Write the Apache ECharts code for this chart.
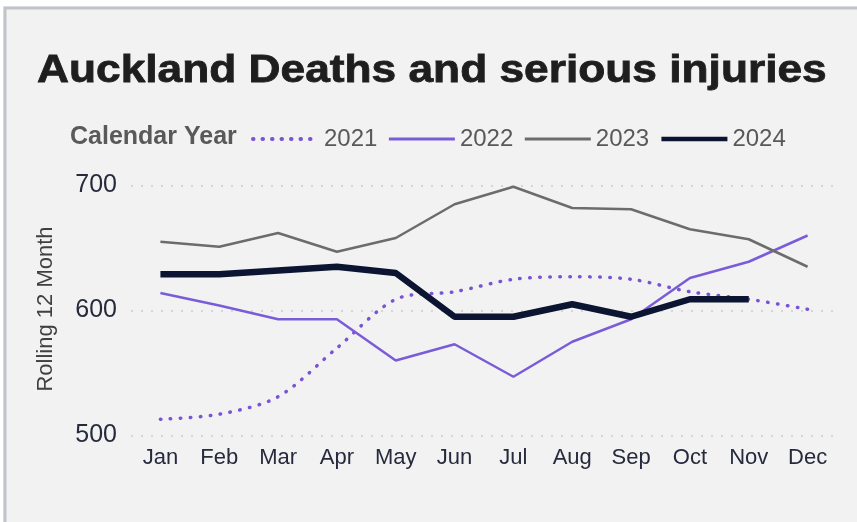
<!DOCTYPE html>
<html>
<head>
<meta charset="utf-8">
<script src="https://cdn.jsdelivr.net/npm/echarts/dist/echarts.min.js"></script>
<style>
  html, body { margin: 0; padding: 0; background: #ffffff; }
  #chart { width: 857px; height: 522px; }
</style>
</head>
<body>
<div id="chart"></div>
<script>
// Months on the category axis
var months = ['Jan', 'Feb', 'Mar', 'Apr', 'May', 'Jun', 'Jul', 'Aug', 'Sep', 'Oct', 'Nov', 'Dec'];

// Rolling 12-month deaths and serious injuries, by calendar year
var y2021 = [513, 517, 531, 570, 609, 615, 625, 627, 625, 615, 609, 601];
var y2022 = [614, 604, 593, 593, 560, 573, 547, 575, 593, 626, 639, 660];
var y2023 = [655, 651, 662, 647, 658, 685, 699, 682, 681, 665, 657, 635];
var y2024 = [629, 629, 632, 635, 630, 595, 595, 605, 595, 609, 609];

// Value axis ticks
var yTicks = [500, 600, 700];

var chart = echarts.init(document.getElementById('chart'), null, { renderer: 'canvas' });

var FONT = '"Liberation Sans", Arial, Helvetica, sans-serif';
var LABEL_COLOR = '#262a3c';
var C2021 = '#7a52d6', C2022 = '#7b5cd8', C2023 = '#6c6c6c', C2024 = '#0b1532';

chart.setOption({
  backgroundColor: '#f2f2f2',
  animation: false,
  graphic: [
    // white margin and panel border
    { type: 'rect', shape: { x: 0, y: 0, width: 857, height: 6 }, style: { fill: '#ffffff' }, silent: true },
    { type: 'rect', shape: { x: 0, y: 0, width: 3, height: 522 }, style: { fill: '#ffffff' }, silent: true },
    { type: 'polyline', shape: { points: [[5, 522], [5, 8], [857, 8]] },
      style: { stroke: '#c0c4ca', lineWidth: 3, fill: null }, silent: true },
    // chart title
    { type: 'text', x: 37, y: 72, scaleX: 1.165,
      style: { text: 'Auckland Deaths and serious injuries', fontFamily: FONT, fontWeight: 'bold',
               fontSize: 38, fill: '#1e1e1e', stroke: '#1e1e1e', lineWidth: 0.8,
               verticalAlign: 'middle', align: 'left' } },
    // legend heading
    { type: 'text', x: 70, y: 137,
      style: { text: 'Calendar Year', fontFamily: FONT, fontWeight: 'bold',
               fontSize: 25, fill: '#595959', verticalAlign: 'middle', align: 'left' } },
    // value axis name
    { type: 'text', x: 46, y: 309, rotation: Math.PI / 2,
      style: { text: 'Rolling 12 Month', fontFamily: FONT, fontSize: 22,
               fill: '#404040', verticalAlign: 'middle', align: 'center' } }
  ],
  legend: {
    left: 246,
    top: 122,
    itemWidth: 66,
    itemHeight: 18,
    itemGap: 10,
    itemStyle: { opacity: 0 },
    textStyle: { fontFamily: FONT, fontSize: 24, color: '#595959' },
    data: [
      { name: '2021', lineStyle: { width: 4, color: C2021, type: [0.5, 9], cap: 'round' } },
      { name: '2022', lineStyle: { width: 3, color: C2022 } },
      { name: '2023', lineStyle: { width: 3, color: C2023 } },
      { name: '2024', lineStyle: { width: 4.5, color: C2024 } }
    ]
  },
  grid: { left: 131, right: 20, top: 185.5, height: 250 },
  xAxis: {
    type: 'category',
    data: months,
    boundaryGap: true,
    axisLine: { show: false },
    axisTick: { show: false },
    axisLabel: { fontFamily: FONT, fontSize: 22, color: LABEL_COLOR, margin: 11 }
  },
  yAxis: {
    type: 'value',
    min: yTicks[0],
    max: yTicks[yTicks.length - 1],
    interval: yTicks[1] - yTicks[0],
    axisLine: { show: false },
    axisTick: { show: false },
    axisLabel: { fontFamily: FONT, fontSize: 25, color: LABEL_COLOR, margin: 14 },
    splitLine: { lineStyle: { color: '#cccccc', width: 1.5, type: [2, 8] } }
  },
  series: [
    { name: '2021', type: 'line', data: y2021, symbol: 'none', smooth: 0.3,
      lineStyle: { color: C2021, width: 3.5, type: [0.5, 9.5], cap: 'round' },
      itemStyle: { color: C2021 }, z: 2 },
    { name: '2022', type: 'line', data: y2022, symbol: 'none',
      lineStyle: { color: C2022, width: 2.5 }, itemStyle: { color: C2022 }, z: 3 },
    { name: '2023', type: 'line', data: y2023, symbol: 'none',
      lineStyle: { color: C2023, width: 2.5 }, itemStyle: { color: C2023 }, z: 3 },
    { name: '2024', type: 'line', data: y2024, symbol: 'none',
      lineStyle: { color: C2024, width: 6.5 }, itemStyle: { color: C2024 }, z: 4 }
  ]
});
</script>
</body>
</html>
